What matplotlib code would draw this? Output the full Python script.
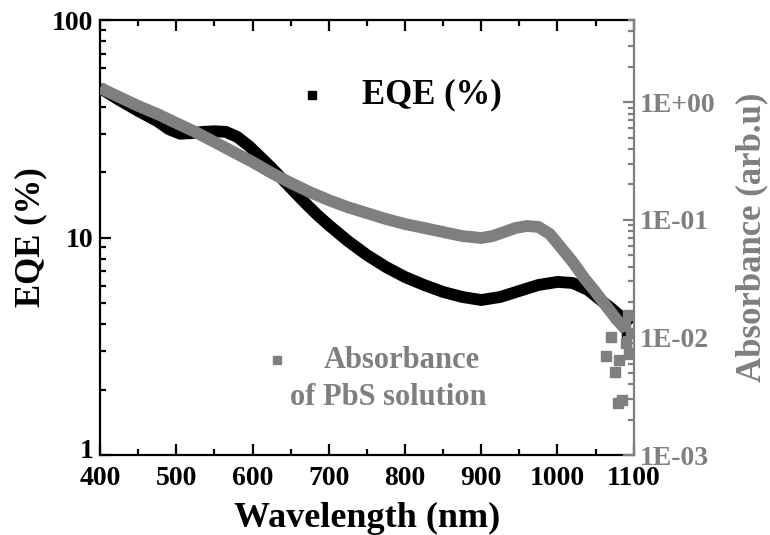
import math
import matplotlib
matplotlib.use("Agg")
import matplotlib.pyplot as plt
from matplotlib.transforms import ScaledTranslation
from matplotlib.ticker import LogLocator, FixedLocator, NullFormatter, FuncFormatter

# ---- data -----------------------------------------------------------------
eqe_wavelength = [400, 425, 450, 475, 490, 505, 520, 535, 550, 565, 580, 595,
                  610, 625, 640, 655, 670, 685, 700, 725, 750, 775, 800, 825,
                  850, 875, 900, 925, 950, 975, 1000, 1020, 1040, 1055, 1070,
                  1085, 1095]
eqe_percent = [48.7, 42.9, 38.2, 34.3, 31.5, 30.0, 30.2, 30.6, 30.8, 30.6,
               29.0, 26.4, 23.5, 20.9, 18.4, 16.2, 14.3, 12.7, 11.4, 9.64,
               8.31, 7.32, 6.58, 6.05, 5.62, 5.33, 5.16, 5.33, 5.68, 6.05,
               6.25, 6.18, 5.74, 5.21, 4.74, 4.27, 3.92]

abs_wavelength = [400, 425, 450, 475, 500, 525, 550, 575, 600, 625, 650, 675,
                  700, 725, 750, 775, 800, 825, 850, 875, 900, 915, 930, 945,
                  960, 975, 990, 1005, 1020, 1035, 1050, 1065, 1078, 1090]
absorbance = [1.32, 1.107, 0.929, 0.794, 0.665, 0.558, 0.459, 0.377, 0.310,
              0.250, 0.206, 0.172, 0.147, 0.128, 0.114, 0.1016, 0.0921,
              0.0852, 0.0787, 0.0728, 0.070, 0.0728, 0.0787, 0.0852, 0.0886,
              0.087, 0.0757, 0.0576, 0.0438, 0.032, 0.0243, 0.0181, 0.0141,
              0.0116]

# noisy points at the long-wavelength end
abs_tail_wavelength = [1063, 1070, 1075, 1080, 1081, 1085, 1088, 1090, 1092, 1094, 1096]
abs_tail = [0.00695, 0.0100, 0.00508, 0.00277, 0.00643, 0.00294, 0.0125,
            0.0090, 0.0155, 0.0072, 0.0110]
eqe_tail_wavelength = [1088, 1090]
eqe_tail = [4.17, 3.64]

x_ticks = [400, 500, 600, 700, 800, 900, 1000, 1100]
eqe_ticks = [1, 10, 100]
abs_ticks = [1e-3, 1e-2, 1e-1, 1e0]

# ---- styling --------------------------------------------------------------
GRAY = "#7f7f7f"
plt.rcParams["font.family"] = ["Liberation Serif", "DejaVu Serif"]
plt.rcParams["font.weight"] = "bold"
plt.rcParams["axes.labelweight"] = "bold"
plt.rcParams["axes.linewidth"] = 1.6

fig = plt.figure(figsize=(7.7, 5.35), dpi=100)
ax1 = fig.add_axes([0.130, 0.1495, 0.693, 0.8131])
ax2 = ax1.twinx()

ax1.plot(eqe_wavelength, eqe_percent, color="black", lw=8.5,
         solid_capstyle="butt", solid_joinstyle="round", zorder=2)
ax1.plot(eqe_tail_wavelength, eqe_tail, "s", color="black", ms=6, zorder=2)

ax2.plot(abs_wavelength, absorbance, color=GRAY, lw=8.5,
         solid_capstyle="butt", solid_joinstyle="round", zorder=3)
ax2.plot(abs_tail_wavelength, abs_tail, "s", color=GRAY, ms=6.5, zorder=3)

# ---- axes -----------------------------------------------------------------
ax1.set_xlim(400, 1100)
ax1.set_yscale("log")
ax1.set_ylim(1, 100)
ax2.set_yscale("log")
ax2.set_ylim(1e-3, 5.0)

ax1.set_xticks(x_ticks)
ax1.xaxis.set_minor_locator(FixedLocator(list(range(450, 1100, 100))))
ax1.set_yticks(eqe_ticks)
ax1.set_yticklabels([str(t) for t in eqe_ticks])
ax1.yaxis.set_minor_locator(LogLocator(base=10, subs=range(2, 10)))
ax1.yaxis.set_minor_formatter(NullFormatter())

ax2.set_yticks(abs_ticks)
ax2.yaxis.set_major_formatter(FuncFormatter(lambda v, p: "1E%+03d" % round(math.log10(v))))
ax2.yaxis.set_minor_locator(LogLocator(base=10, subs=range(2, 10)))
ax2.yaxis.set_minor_formatter(NullFormatter())

ax1.tick_params(axis="both", which="both", direction="in", top=True, right=False,
                labelsize=20, width=1.6)
ax1.tick_params(axis="both", which="major", length=8)
ax1.tick_params(axis="both", which="minor", length=4.5)
ax1.tick_params(axis="y", which="major", pad=5)
ax1.tick_params(axis="x", which="major", pad=8)

ax2.tick_params(axis="y", which="both", direction="in", colors=GRAY,
                labelsize=20, width=1.6)
ax2.tick_params(axis="y", which="major", length=8, pad=4)
ax2.tick_params(axis="y", which="minor", length=4.5)

# lift the lowest EQE tick label off the corner
fig.canvas.draw()
low_label = ax1.get_yticklabels()[0]
low_label.set_transform(low_label.get_transform()
                        + ScaledTranslation(0, 5 / 72, fig.dpi_scale_trans))

ax1.spines["right"].set_visible(False)
for side in ("left", "top", "bottom"):
    ax2.spines[side].set_visible(False)
ax2.spines["right"].set_color(GRAY)
ax2.spines["right"].set_linewidth(1.6)

ax1.set_xlabel("Wavelength (nm)", fontsize=26, labelpad=8)
ax1.set_ylabel("EQE (%)", fontsize=25, labelpad=3)
ax2.set_ylabel("Absorbance (arb.u)", fontsize=25, color=GRAY, labelpad=15)

# ---- in-plot legend -------------------------------------------------------
ax1.plot([0.397], [0.828], "s", color="black", ms=6, transform=ax1.transAxes,
         clip_on=False)
ax1.text(0.491, 0.828, "EQE (%)", transform=ax1.transAxes, fontsize=25,
         ha="left", va="center")
ax1.plot([0.331], [0.218], "s", color=GRAY, ms=6, transform=ax1.transAxes,
         clip_on=False)
ax1.text(0.566, 0.218, "Absorbance", transform=ax1.transAxes, fontsize=22,
         ha="center", va="center", color=GRAY)
ax1.text(0.540, 0.132, "of PbS solution", transform=ax1.transAxes, fontsize=22,
         ha="center", va="center", color=GRAY)

fig.savefig("out.png", dpi=100)
